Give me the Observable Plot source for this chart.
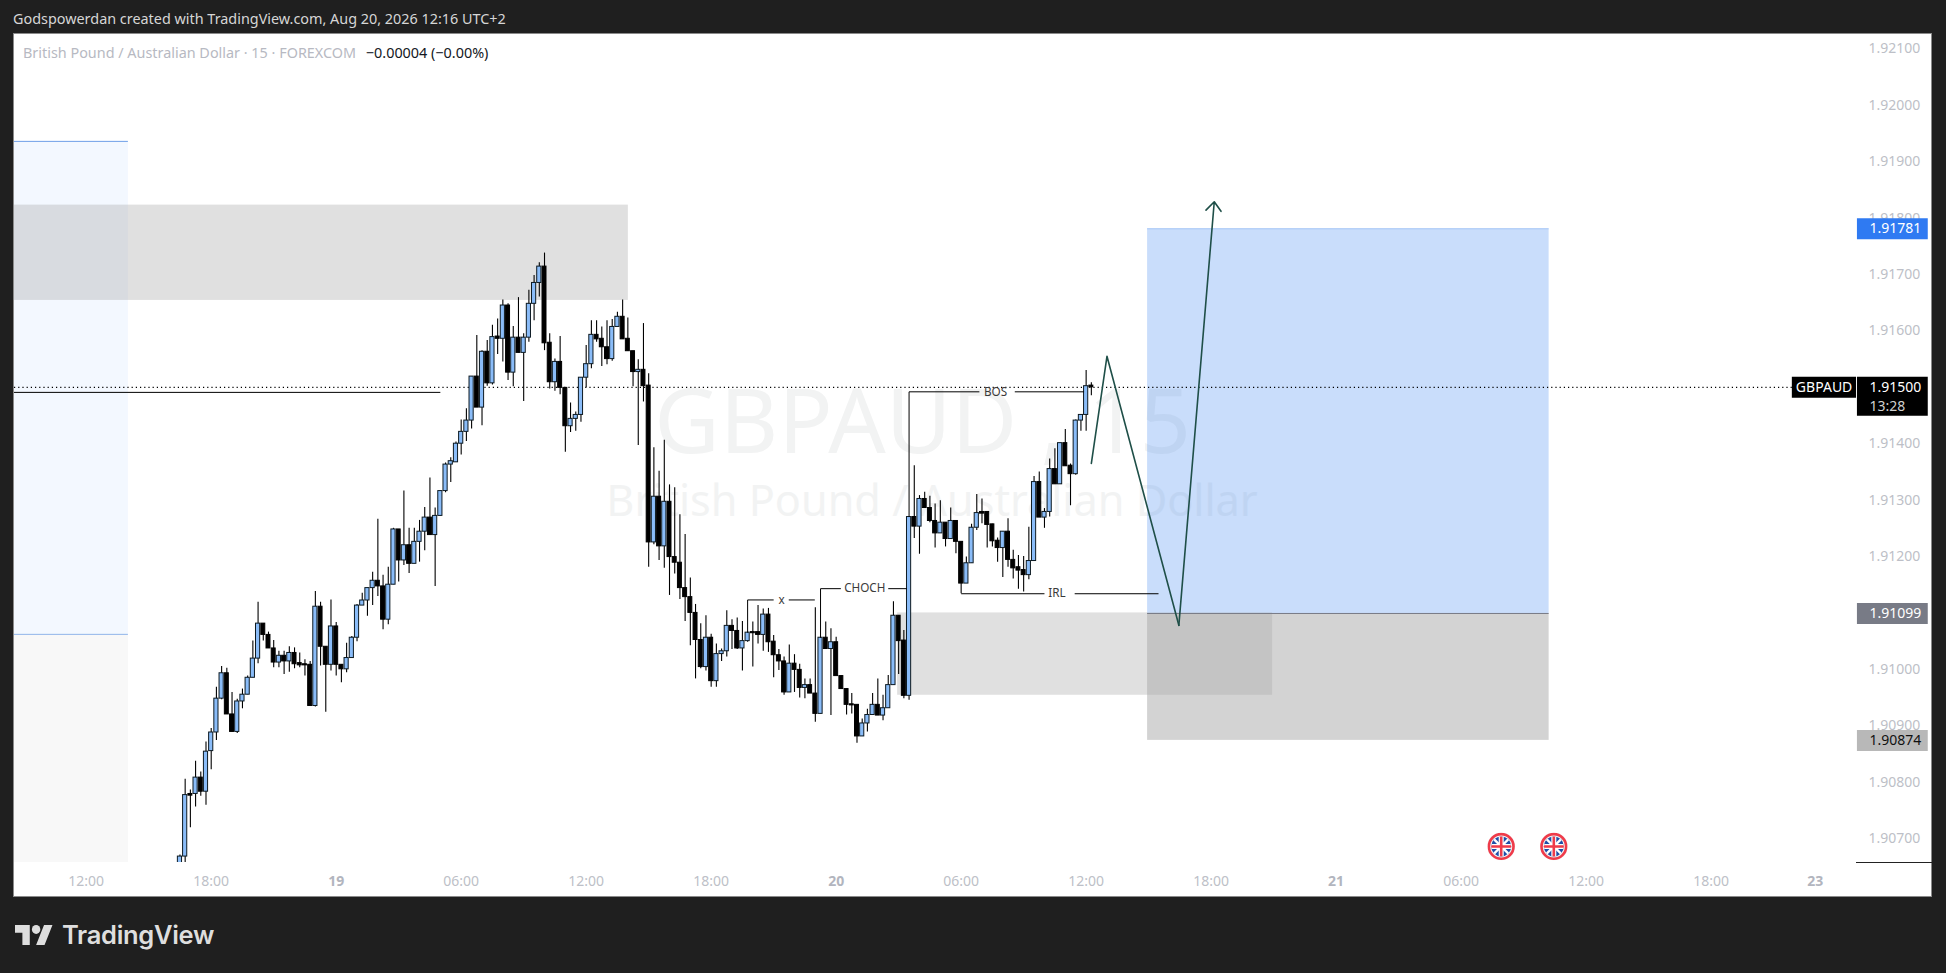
<!DOCTYPE html>
<html>
<head>
<meta charset="utf-8">
<script src="https://cdn.jsdelivr.net/npm/d3@7"></script>
<script src="https://cdn.jsdelivr.net/npm/@observablehq/plot@0.6"></script>
<style>
html,body{margin:0;padding:0;background:#1f1f1f;width:1946px;height:973px;overflow:hidden;font-family:"Noto Sans",sans-serif}
#panel{position:absolute;left:13px;top:33px;width:1919px;height:864px;box-sizing:border-box;background:#fff;border:1px solid #8a8a8a}
#chart{position:absolute;left:0;top:0}
#credit{position:absolute;left:13px;top:9px;font-size:14.4px;line-height:20px;color:#d6d6d6;white-space:nowrap}
#legend{position:absolute;left:23px;top:43px;font-size:14.4px;line-height:20px;color:#b7b9c2;white-space:nowrap}
#legend b{font-weight:400;color:#131722;margin-left:6px}
#brand{position:absolute;left:15px;top:921px;display:flex;align-items:center;color:#dedede}
#brand span{font-family:Inter,sans-serif;font-weight:600;font-size:25.5px;margin-left:9px;letter-spacing:-.3px;line-height:28px}
</style>
</head>
<body>
<div id="panel"></div>
<div id="chart"></div>
<div id="credit">Godspowerdan created with TradingView.com, Aug 20, 2026 12:16 UTC+2</div>
<div id="legend">British Pound / Australian Dollar · 15 · FOREXCOM <b>−0.00004 (−0.00%)</b></div>
<div id="brand"><svg width="38" height="20" viewBox="0 4 36 18" preserveAspectRatio="none" fill="#dedede"><path d="M14 22H7V11H0V4h14v18zM28 22h-8l7.5-18h8L28 22z"/><circle cx="20" cy="8" r="4"/></svg><span>TradingView</span></div>
<script>
// Prices are held as points above 1.90000 (1 point = 0.00001)
const firstBar = 18; // bar index: 15-minute bars counted from Aug 18, 12:00
const opens = [645,668,779,779,808,783,855,888,948,993,920,889,943,955,985,1019,1081,1061,1037,1012,1024,1014,1029,1011,1009,1008,935,1111,1040,1008,1076,1008,1000,1020,1056,1113,1122,1144,1157,1147,1088,1150,1248,1193,1220,1187,1226,1244,1269,1238,1272,1316,1363,1367,1400,1421,1441,1519,1464,1563,1507,1590,1586,1645,1526,1588,1561,1588,1648,1685,1714,1579,1509,1545,1499,1431,1444,1451,1517,1541,1593,1586,1571,1550,1607,1625,1586,1564,1527,1531,1503,1225,1306,1218,1297,1199,1189,1144,1128,1100,1052,1004,1056,979,1027,1032,1077,1068,1037,1050,1066,1066,1061,1097,1049,1025,1014,959,1010,999,967,972,957,921,1056,1036,1048,988,965,938,937,881,904,919,937,918,931,972,1095,1051,953,1270,1253,1302,1286,1263,1241,1260,1231,1263,1226,1152,1188,1251,1279,1279,1257,1228,1215,1244,1194,1181,1176,1167,1192,1332,1269,1279,1355,1328,1401,1361,1346,1441,1451,1503];
const closes = [668,777,776,808,783,854,888,948,993,920,889,943,955,985,1019,1081,1061,1037,1012,1024,1014,1029,1009,1007,1007,935,1111,1040,1008,1076,1008,1000,1020,1056,1113,1122,1144,1157,1147,1088,1150,1248,1193,1220,1187,1226,1244,1269,1238,1272,1316,1363,1369,1400,1421,1441,1519,1464,1563,1507,1589,1586,1645,1526,1588,1561,1588,1648,1685,1714,1578,1509,1545,1499,1431,1444,1451,1517,1541,1593,1585,1571,1550,1607,1625,1585,1564,1527,1531,1502,1225,1306,1218,1297,1199,1189,1144,1128,1100,1052,1004,1056,979,1027,1032,1077,1068,1037,1050,1065,1064,1061,1097,1048,1025,1014,959,1010,999,967,972,957,921,1056,1036,1048,988,965,937,936,881,904,919,937,918,931,972,1095,1050,953,1270,1253,1302,1286,1263,1241,1260,1231,1263,1226,1152,1188,1251,1277,1276,1256,1227,1215,1244,1194,1179,1175,1167,1192,1332,1269,1279,1355,1328,1401,1360,1346,1441,1451,1502,1500];
const highs = [671,805,786,837,818,871,895,968,1005,1002,959,947,965,988,1050,1119,1081,1066,1051,1032,1032,1040,1038,1029,1017,1014,1138,1119,1040,1123,1083,1008,1046,1058,1115,1135,1144,1172,1266,1167,1181,1250,1248,1316,1250,1250,1264,1287,1339,1286,1316,1366,1375,1403,1442,1462,1519,1592,1565,1583,1610,1621,1655,1648,1608,1659,1595,1672,1698,1721,1738,1595,1550,1590,1499,1472,1456,1517,1574,1618,1618,1607,1618,1620,1633,1655,1623,1564,1549,1613,1524,1393,1351,1406,1327,1322,1274,1239,1162,1115,1081,1095,1062,1045,1036,1104,1088,1091,1085,1066,1084,1113,1107,1108,1060,1035,1022,1043,1026,1009,983,983,1109,1056,1084,1072,1057,988,965,957,937,912,929,957,983,954,989,1120,1095,1069,1270,1361,1308,1314,1307,1293,1299,1260,1286,1263,1226,1199,1257,1310,1302,1279,1257,1233,1244,1267,1211,1202,1200,1252,1342,1350,1285,1373,1391,1401,1425,1364,1442,1451,1530,1508];
const lows = [630,645,719,756,775,759,822,874,946,920,889,886,930,955,985,1010,1050,1037,1003,1003,991,995,1001,1003,988,935,933,1006,924,997,988,976,994,1020,1049,1113,1094,1113,1129,1070,1079,1150,1155,1184,1170,1187,1190,1210,1238,1147,1272,1313,1331,1367,1380,1404,1426,1464,1432,1502,1504,1558,1545,1512,1501,1561,1475,1580,1618,1660,1565,1497,1493,1487,1385,1420,1422,1438,1499,1533,1580,1537,1540,1546,1607,1585,1564,1501,1397,1474,1181,1221,1193,1179,1131,1169,1124,1085,1042,983,1001,997,968,968,1014,1022,1035,1035,997,1048,1004,1045,1032,1030,985,998,954,959,959,949,948,957,906,921,1036,918,988,965,919,921,869,881,889,919,918,909,931,972,991,948,945,1232,1204,1286,1260,1215,1241,1217,1231,1205,1134,1152,1188,1246,1258,1215,1217,1190,1163,1181,1160,1142,1137,1159,1192,1269,1250,1270,1328,1328,1360,1290,1344,1422,1422,1485];

const priceTicks = [1.921,1.920,1.919,1.918,1.917,1.916,1.915,1.914,1.913,1.912,1.911,1.910,1.909,1.908,1.907];
const timeTicks = [0,24,72,96,120,168,192,216,264,288,312];
const timeLabels = ["12:00","18:00","06:00","12:00","18:00","06:00","12:00","18:00","06:00","12:00","18:00"];
const dateTicks = [48,144,240,332];
const dateLabels = ["19","20","21","23"];

const lastPrice = 1500, tpPrice = 1781, entryPrice = 1099, slPrice = 874;
const px = v => 1.9 + v / 1e5;

const candles = opens.map((o,k) => ({i:firstBar+k, o:px(o), c:px(closes[k]), h:px(highs[k]), l:px(lows[k]), up:closes[k]>o}));
const upBars = candles.filter(d=>d.up), downBars = candles.filter(d=>!d.up);

// zones [bar from, bar to, price top, price bottom]
const zoneRows = (rows)=>rows.map(([a,b,t,u])=>({a,b,t:px(t),u:px(u)}));
const paleTarget = zoneRows([[-20,8.1,1936,1062]]);
const paleStop = zoneRows([[-20,8.1,1062,400]]);
const supply = zoneRows([[-20,104.1,1823,1654]]);
const demand = zoneRows([[155.8,227.8,1100,954]]);
const target = zoneRows([[203.8,280.9,tpPrice,entryPrice]]);
const stop = zoneRows([[203.8,280.9,entryPrice,slPrice]]);

// annotation segments [bar from, price from, bar to, price to]
const segRows = [
 [-20,1491,68,1491],
 [127,1065,127,1123],[127,1123,132,1123],[134.9,1123,139.9,1123],
 [141,1056,141,1143],[141,1143,144.9,1143],[154,1143,157.6,1143],
 [158,1270,158,1492],[158,1492,171.5,1492],[178.3,1492,191.6,1492],
 [168,1134,184,1134],[189.8,1134,205.9,1134]
];
const segs = segRows.map(([a,p,b,q])=>({a,p:px(p),b,q:px(q)}));
const noteLabels = ["x","CHOCH","BOS","IRL"];
const noteBars = [133.5,149.5,174.6,186.4];
const notePrices = [1123,1143,1492,1134];
const notes = noteLabels.map((t,k)=>({t,x:noteBars[k],y:px(notePrices[k])}));

const forecastBars = [193,196,209.8];
const forecastPrices = [1365,1555,1078];
const forecast = forecastBars.map((x,k)=>({x,y:px(forecastPrices[k])}));
const forecastArrow = [{a:209.8,p:px(1078),b:216.6,q:px(1829)}];

const flagSvg = `<svg xmlns="http://www.w3.org/2000/svg" viewBox="0 0 28 28"><defs><clipPath id="c"><circle cx="14" cy="14" r="10"/></clipPath></defs><circle cx="14" cy="14" r="14" fill="#f1f1f1"/><g clip-path="url(#c)"><rect width="28" height="28" fill="#1f4fa8"/><path d="M4 4L24 24M24 4L4 24" stroke="#fff" stroke-width="2.4"/><path d="M14 2V26M2 14H26" stroke="#fff" stroke-width="5"/><path d="M14 2V26M2 14H26" stroke="#ef3b4a" stroke-width="2.6"/></g><circle cx="14" cy="14" r="12.3" fill="none" stroke="#ef3b4a" stroke-width="2.6"/></svg>`;
const flagSrc = "data:image/svg+xml;utf8," + encodeURIComponent(flagSvg);
const flagBars = [271.7,281.8];
const flags = flagBars.map(x=>({x,y:px(686)}));

const axisFrom = 340.1, axisTo = 353.7, axisEdge = 354.6, domainEnd = 339.92;
const tagFrom = 327.6, tagCentre = 333.7, labelBar = 342.4;
const badge = (price, fill) => Plot.ruleY([px(price)], {x1:axisFrom, x2:axisTo, stroke:fill, strokeWidth:21});
const badgeText = (price, s, fill, extra={}) => Plot.text([s], {x:labelBar, y:()=>px(price), text:d=>d, fill, fontSize:14, textAnchor:"start", ...extra});

const rect = (data, fill, fillOpacity) => Plot.rect(data, {x1:"a", x2:"b", y1:"u", y2:"t", fill, fillOpacity, clip:true});

const plot = Plot.plot({
  width:1946, height:973,
  marginLeft:14, marginTop:34, marginRight:90, marginBottom:111,
  style:{background:"transparent", fontFamily:"'Noto Sans',sans-serif", overflow:"visible"},
  x:{type:"linear", domain:[-13.77,domainEnd], axis:null},
  y:{type:"linear", domain:[1.906575,1.921255], axis:null},
  marks:[
    Plot.text(["GBPAUD , 15"], {x:()=>160.6, y:()=>px(1435), text:d=>d, fill:"#f2f3f3", fontSize:90}),
    Plot.text(["British Pound / Australian Dollar"], {x:()=>162.4, y:()=>px(1296), text:d=>d, fill:"#f2f3f3", fontSize:43.2}),
    rect(paleTarget,"#f3f8ff",1),
    rect(paleStop,"#f8f8f8",1),
    Plot.ruleY([px(1936)], {x1:-20, x2:8.1, stroke:"#6f9fe8", clip:true}),
    Plot.ruleY([px(1062)], {x1:-20, x2:8.1, stroke:"#8fb4ea", clip:true}),
    rect(target,"#3d85f0",0.28),
    rect(stop,"#787878",0.326),
    Plot.ruleY([px(tpPrice)], {x1:203.8, x2:280.9, stroke:"#a9c8f7"}),
    rect(supply,"#aaaaaa",0.364),
    rect(demand,"#aaaaaa",0.364),
    Plot.ruleY([px(entryPrice)], {x1:203.8, x2:280.9, stroke:"#787b86"}),
    Plot.ruleY([px(lastPrice)], {x1:-13.77, x2:tagFrom, stroke:"#000", strokeWidth:1.3, strokeDasharray:"1.2,3"}),
    Plot.ruleX(candles, {x:"i", y1:"l", y2:"h", stroke:"#000", strokeWidth:1.1, clip:true}),
    Plot.rect(downBars, {x1:d=>d.i-.38, x2:d=>d.i+.38, y1:"o", y2:"c", fill:"#000", stroke:"#000", strokeWidth:1, clip:true}),
    Plot.rect(upBars, {x1:d=>d.i-.4, x2:d=>d.i+.4, y1:"o", y2:"c", fill:"#8abcf8", stroke:"#0d1a22", strokeWidth:1, clip:true}),
    Plot.link(segs, {x1:"a", y1:"p", x2:"b", y2:"q", stroke:"#000", strokeWidth:1, clip:true}),
    Plot.text(notes, {x:"x", y:"y", text:"t", fill:"#3a3a3a", fontSize:11.7}),
    Plot.line(forecast, {x:"x", y:"y", stroke:"#1f4f48", strokeWidth:1.6}),
    Plot.arrow(forecastArrow, {x1:"a", y1:"p", x2:"b", y2:"q", bend:0, stroke:"#1f4f48", strokeWidth:1.6, headLength:11, headAngle:80}),
    Plot.image(flags, {x:"x", y:"y", src:()=>flagSrc, width:28, height:28}),
    Plot.axisY({ticks:priceTicks, anchor:"right", tickSize:0, tickPadding:12, tickFormat:d3.format(".5f"), fill:"#bdbfc7", fontSize:14, label:null}),
    Plot.axisX({ticks:timeTicks, anchor:"bottom", tickSize:0, tickPadding:13.5, tickFormat:d=>timeLabels[timeTicks.indexOf(d)], fill:"#bdbfc7", fontSize:14, label:null}),
    Plot.axisX({ticks:dateTicks, anchor:"bottom", tickSize:0, tickPadding:13.5, tickFormat:d=>dateLabels[dateTicks.indexOf(d)], fill:"#b2b5be", fontSize:14, fontWeight:700, label:null}),
    Plot.ruleY([1.906575], {x1:domainEnd, x2:axisEdge, stroke:"#222"}),
    badge(tpPrice,"#2f7af2"),
    badgeText(tpPrice,"1.91781","#fff"),
    badge(entryPrice,"#787b86"),
    badgeText(entryPrice,"1.91099","#fff"),
    badge(slPrice,"#b8b8b8"),
    badgeText(slPrice,"1.90874","#111"),
    Plot.ruleY([px(lastPrice)], {x1:axisFrom, x2:axisTo, stroke:"#000", strokeWidth:39, dy:9}),
    badgeText(lastPrice,"1.91500","#fff"),
    badgeText(lastPrice,"13:28","#d0d0d0",{dy:19}),
    Plot.ruleY([px(lastPrice)], {x1:tagFrom, x2:domainEnd, stroke:"#000", strokeWidth:21}),
    Plot.text(["GBPAUD"], {x:()=>tagCentre, y:()=>px(lastPrice), text:d=>d, fill:"#fff", fontSize:14})
  ]
});
document.getElementById("chart").append(plot);
</script>
</body>
</html>
